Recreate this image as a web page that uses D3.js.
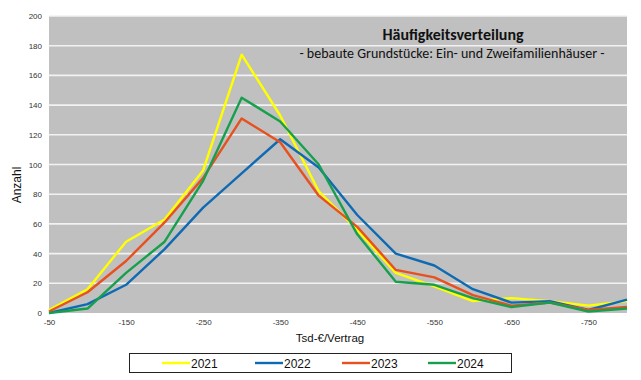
<!DOCTYPE html>
<html>
<head>
<meta charset="utf-8">
<script src="https://cdn.jsdelivr.net/npm/d3@7"></script>
<style>
  body { margin: 0; background: #fff; }
  svg { display: block; }
</style>
</head>
<body>
<div id="chart"></div>
<script>
const categories = [-50, -100, -150, -200, -250, -300, -350, -400, -450, -500, -550, -600, -650, -700, -750, -800];
const years = ["2021", "2022", "2023", "2024"];
const values2021 = [2, 16, 48, 63, 96, 174, 133, 82, 56, 27, 18, 8, 10, 8, 5, 8];
const values2022 = [0, 6, 19, 43, 71, 94, 117, 98, 66, 40, 32, 16, 7, 8, 2, 9];
const values2023 = [1, 14, 35, 61, 91, 131, 115, 79, 58, 29, 24, 12, 5, 7, 2, 4];
const values2024 = [0, 3, 27, 48, 89, 145, 129, 100, 53, 21, 19, 10, 4, 7, 1, 3];
const colors = ["#ffff00", "#0f6ab4", "#e8501e", "#16a04e"];
const yTicks = [0, 20, 40, 60, 80, 100, 120, 140, 160, 180, 200];

const W = 641, H = 380;
const plot = { left: 49, right: 627, top: 16, bottom: 313 };

const svg = d3.select("#chart").append("svg").attr("width", W).attr("height", H);

const x = d3.scalePoint().domain(categories).range([plot.left, plot.right]);
const y = d3.scaleLinear().domain([0, 200]).range([plot.bottom, plot.top]);

// plot background
svg.append("rect")
    .attr("x", plot.left).attr("y", plot.top)
    .attr("width", plot.right - plot.left).attr("height", plot.bottom - plot.top)
    .attr("fill", "#c0c0c0");

// grid
svg.append("g").selectAll("line").data(yTicks.filter(d => d > 0)).enter().append("line")
    .attr("x1", plot.left).attr("x2", plot.right)
    .attr("y1", d => y(d)).attr("y2", d => y(d))
    .attr("stroke", "#f2f2f2").attr("stroke-width", 1.6);

// y axis labels
const yAxis = svg.append("g").attr("transform", "translate(" + plot.left + ",0)")
    .call(d3.axisLeft(y).tickValues(yTicks).tickSize(0).tickPadding(7));
yAxis.select(".domain").remove();
yAxis.selectAll("text").attr("font-family", "Arial, 'Liberation Sans', sans-serif")
    .attr("font-size", 8).attr("fill", "#333");

// x axis labels (every second category)
const xAxis = svg.append("g").attr("transform", "translate(0," + plot.bottom + ")")
    .call(d3.axisBottom(x).tickValues(categories.filter((d, i) => i % 2 === 0 && i < 15)).tickSize(0).tickPadding(6));
xAxis.select(".domain").remove();
xAxis.selectAll("text").attr("font-family", "Arial, 'Liberation Sans', sans-serif")
    .attr("font-size", 8).attr("fill", "#333");

// lines
const series = [values2021, values2022, values2023, values2024];
const line = d3.line().x((d, i) => x(categories[i])).y(d => y(d));
svg.append("g").selectAll("path").data(series).enter().append("path")
    .attr("d", line)
    .attr("fill", "none")
    .attr("stroke", (d, i) => colors[i])
    .attr("stroke-width", 2.4)
    .attr("stroke-linejoin", "round");

// titles
svg.append("text").attr("x", 453).attr("y", 40).attr("text-anchor", "middle")
    .attr("font-family", "Carlito, Calibri, 'Open Sans', sans-serif").attr("font-weight", "bold")
    .attr("font-size", 16).attr("fill", "#111").text("Häufigkeitsverteilung");
svg.append("text").attr("x", 452).attr("y", 58).attr("text-anchor", "middle")
    .attr("font-family", "Carlito, Calibri, 'Open Sans', sans-serif")
    .attr("font-size", 14).attr("fill", "#111").text("- bebaute Grundstücke: Ein- und Zweifamilienhäuser -");

// axis titles
svg.append("text").attr("transform", "translate(21,185) rotate(-90)").attr("text-anchor", "middle")
    .attr("font-family", "Arial, 'Liberation Sans', sans-serif").attr("font-size", 12)
    .attr("fill", "#111").text("Anzahl");
svg.append("text").attr("x", 330).attr("y", 342).attr("text-anchor", "middle")
    .attr("font-family", "Arial, 'Liberation Sans', sans-serif").attr("font-size", 11.5)
    .attr("fill", "#111").text("Tsd-€/Vertrag");

// legend
const legend = svg.append("g");
legend.append("rect").attr("x", 129.5).attr("y", 353.5).attr("width", 382).attr("height", 19)
    .attr("fill", "#fff").attr("stroke", "#222").attr("stroke-width", 1);
const legendX = [162, 255, 342, 428];
const items = legend.selectAll("g.item").data(years).enter().append("g").attr("class", "item")
    .attr("transform", (d, i) => "translate(" + legendX[i] + ",363)");
items.append("line").attr("x1", 0).attr("x2", 28).attr("y1", 0).attr("y2", 0)
    .attr("stroke", (d, i) => colors[i]).attr("stroke-width", 2.4);
items.append("text").attr("x", 29).attr("y", 4.5)
    .attr("font-family", "Arial, 'Liberation Sans', sans-serif").attr("font-size", 12)
    .attr("fill", "#111").text(d => d);
</script>
</body>
</html>
